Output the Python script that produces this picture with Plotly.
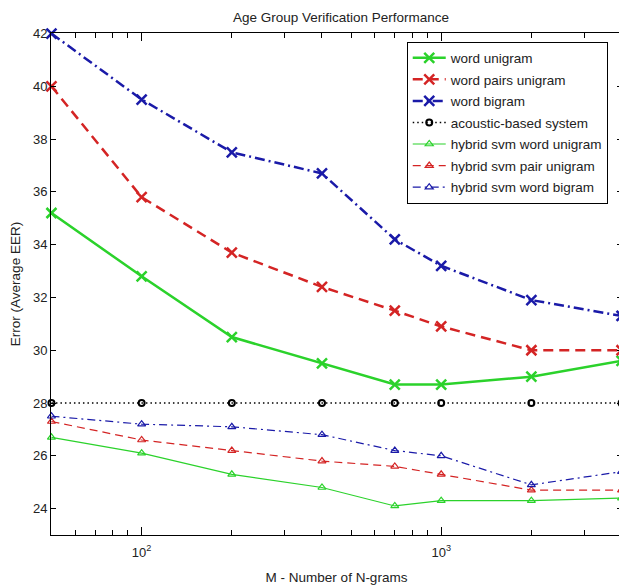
import plotly.graph_objects as go
import math

x_vals = [50, 100, 200, 400, 700, 1000, 2000, 4000]
word_unigram = [35.2, 32.8, 30.5, 29.5, 28.7, 28.7, 29.0, 29.6]
word_pairs_unigram = [40.0, 35.8, 33.7, 32.4, 31.5, 30.9, 30.0, 30.0]
word_bigram = [42.0, 39.5, 37.5, 36.7, 34.2, 33.2, 31.9, 31.3]
acoustic = [28.0, 28.0, 28.0, 28.0, 28.0, 28.0, 28.0, 28.0]
hybrid_word_unigram = [26.7, 26.1, 25.3, 24.8, 24.1, 24.3, 24.3, 24.4]
hybrid_pair_unigram = [27.3, 26.6, 26.2, 25.8, 25.6, 25.3, 24.7, 24.7]
hybrid_word_bigram = [27.5, 27.2, 27.1, 26.8, 26.2, 26.0, 24.9, 25.4]

y_ticks = [24, 26, 28, 30, 32, 34, 36, 38, 40, 42]
x_major = [100, 1000]
x_major_text = ["10<sup>2</sup>", "10<sup>3</sup>"]
x_minor = [60, 70, 80, 90, 200, 300, 400, 500, 600, 700, 800, 900, 2000, 3000]

GREEN = "#2bd22b"
RED = "#d42424"
BLUE = "#1a1aa8"

series = [
    ("word unigram", word_unigram, GREEN, 2.5, "solid", "x-thin-open", 10, 2.5),
    ("word pairs unigram", word_pairs_unigram, RED, 2.5, "10px,6px", "x-thin-open", 10, 2.5),
    ("word bigram", word_bigram, BLUE, 2.5, "10px,4px,2px,4px", "x-thin-open", 10, 2.5),
    ("acoustic-based system", acoustic, "#000000", 1.5, "1.5px,3px", "circle-open", 6, 2),
    ("hybrid svm word unigram", hybrid_word_unigram, GREEN, 1.2, "solid", "triangle-up-open", 7, 1.2),
    ("hybrid svm pair unigram", hybrid_pair_unigram, RED, 1.2, "8px,5px", "triangle-up-open", 7, 1.2),
    ("hybrid svm word bigram", hybrid_word_bigram, BLUE, 1.2, "8px,4px,2px,4px", "triangle-up-open", 7, 1.2),
]

fig = go.Figure()
for i, (name, ys, color, lw, dash, sym, msize, mlw) in enumerate(series):
    fig.add_trace(go.Scatter(
        x=x_vals, y=ys, name=name, mode="lines+markers",
        line=dict(color=color, width=lw, dash=dash),
        marker=dict(symbol=sym, size=msize, color=color, line=dict(color=color, width=mlw)),
        cliponaxis=False, legendgroup=f"g{i}",
    ))

FONT = "Liberation Sans, Arial, sans-serif"
EPS = 0.0015

# The page body has an 8px margin, so the figure is drawn 8px in from the corner.
fig.update_layout(
    width=619, height=579,
    margin=dict(l=43, r=5, t=25, b=52),
    paper_bgcolor="white", plot_bgcolor="white",
    font=dict(family=FONT, size=13, color="#222"),
    title=dict(text="Age Group Verification Performance", x=0.538, xanchor="center",
               y=0.984, yanchor="middle", font=dict(size=13.5, color="#222")),
    showlegend=True,
    legend=dict(x=0.623, xanchor="left", y=0.983, yanchor="top",
                bgcolor="white", bordercolor="black", borderwidth=1,
                font=dict(size=13.5, color="#222"), tracegroupgap=1,
                traceorder="grouped", itemwidth=33),
)

fig.update_xaxes(
    type="log", range=[math.log10(50) - EPS, math.log10(4000) + EPS],
    showgrid=False, zeroline=False,
    showline=True, linecolor="black", linewidth=1, mirror="ticks",
    ticks="inside", ticklen=8, tickcolor="black", tickwidth=1,
    tickmode="array", tickvals=x_major, ticktext=x_major_text,
    tickfont=dict(size=13, color="#222"), ticklabelstandoff=5,
    minor=dict(ticks="inside", ticklen=5, tickcolor="black", tickwidth=1,
               tickmode="array", tickvals=x_minor, showgrid=False),
    title=dict(text="M - Number of N-grams", font=dict(size=13.5, color="#222"), standoff=13),
)
fig.update_yaxes(
    range=[23, 42.02], showgrid=False, zeroline=False,
    showline=True, linecolor="black", linewidth=1, mirror="ticks",
    ticks="inside", ticklen=5, tickcolor="black", tickwidth=1,
    tickmode="array", tickvals=y_ticks,
    tickfont=dict(size=13, color="#222"),
    title=dict(text="Error (Average EER)", font=dict(size=13.5, color="#222"), standoff=9),
)

fig.write_html("out.html")
